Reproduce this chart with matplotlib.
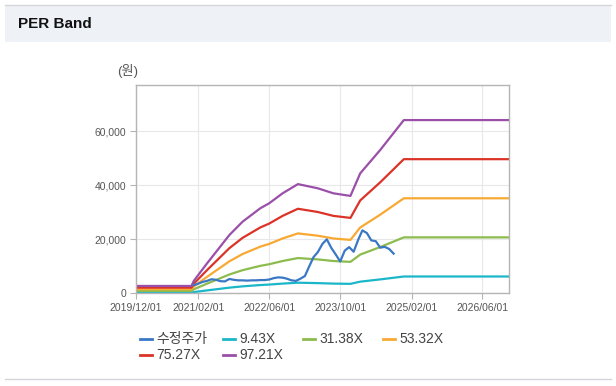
import matplotlib
matplotlib.use('Agg')
import matplotlib.pyplot as plt
import matplotlib.dates as mdates
import matplotlib.ticker as mticker
from matplotlib.lines import Line2D
from matplotlib.patches import Rectangle
import pandas as pd

plt.rcParams['font.family'] = ['Liberation Sans', 'Noto Sans CJK KR']

# EPS path behind the PER bands (band = EPS x multiple)
eps_dates = ['2019-12-01', '2020-12-15', '2021-01-01', '2021-04-01', '2021-09-01',
             '2021-12-01', '2022-04-01', '2022-06-01', '2022-09-01', '2022-12-15',
             '2023-05-01', '2023-08-15', '2023-12-10', '2024-02-15', '2024-07-01',
             '2024-12-10', '2026-12-01']
eps_values = [28, 28, 48, 114, 222, 273, 324, 343, 381, 416,
              400, 381, 371, 457, 546, 660, 660]

multiples = [9.43, 31.38, 53.32, 75.27, 97.21]
band_labels = ['9.43X', '31.38X', '53.32X', '75.27X', '97.21X']
band_colors = ['#1bb7c9', '#8cbb4e', '#f7a933', '#db3328', '#9a4fa8']

# adjusted close (monthly, 2021-01 .. 2024-10)
price_dates = pd.date_range('2021-01-01', '2024-10-01', freq='MS')
price_values = [3000, 3600, 4200, 4600, 5200, 5000, 4500, 4400, 5300, 5000,
                4800, 4800, 4700, 4800, 4800, 4900, 4900, 5100, 5600, 5900,
                5800, 5400, 4800, 4600, 5400, 6400, 9800, 13400, 15300, 18300,
                20000, 16800, 14300, 11800, 15800, 17100, 15400, 19800, 23300, 22300,
                19600, 19300, 16900, 17200, 16400, 14700]
price_label = '수정주가'
price_color = '#3a78c5'

xtick_dates = ['2019/12/01', '2021/02/01', '2022/06/01', '2023/10/01', '2025/02/01', '2026/06/01']
yticks = [0, 20000, 40000, 60000]

W, H = 616, 386


def fx(px):
    return px / W


def fy(py):
    return 1 - py / H


fig = plt.figure(figsize=(W / 100, H / 100), dpi=100, facecolor='white')

# card header
fig.patches.append(Rectangle((fx(5), fy(42)), fx(611) - fx(5), fy(5) - fy(42),
                             transform=fig.transFigure, facecolor='#eef2f7',
                             edgecolor='none', zorder=0))
fig.lines.append(Line2D([fx(5), fx(611)], [fy(5), fy(5)], transform=fig.transFigure,
                        color='#d3d6db', lw=1))
fig.lines.append(Line2D([fx(5), fx(611)], [fy(379), fy(379)], transform=fig.transFigure,
                        color='#d3d6db', lw=1))
fig.text(fx(18), fy(24), 'PER Band', fontsize=11, fontweight='bold',
         color='#111111', va='center', ha='left')

ax = fig.add_axes([fx(136), fy(293.3), fx(509) - fx(136), fy(85) - fy(293.3)])

edates = pd.to_datetime(eps_dates)
for mult, label, color in zip(multiples, band_labels, band_colors):
    ax.plot(edates, [e * mult for e in eps_values], color=color, lw=1.6,
            label=label, solid_joinstyle='round')
ax.plot(price_dates, price_values, color=price_color, lw=1.6, label=price_label,
        zorder=5, solid_joinstyle='round')

ax.set_xlim(pd.Timestamp('2019-12-01'), pd.Timestamp('2026-12-01'))
ax.set_ylim(0, 77150)
ax.set_xticks(pd.to_datetime(xtick_dates, format='%Y/%m/%d'))
ax.xaxis.set_major_formatter(mdates.DateFormatter('%Y/%m/%d'))
ax.set_yticks(yticks)
ax.yaxis.set_major_formatter(mticker.FuncFormatter(lambda v, p: f'{int(v):,}'))
ax.grid(True, color='#e8e8e8', lw=0.8)
ax.set_axisbelow(True)
for s in ax.spines.values():
    s.set_color('#b5b5b5')
    s.set_linewidth(1)
ax.tick_params(colors='#b5b5b5', labelcolor='#555555', labelsize=7.5,
               length=4, width=0.8, pad=3)

fig.text(fx(117), fy(71), '(원)', fontsize=9.5, color='#555555', va='center', ha='left')

# legend, laid out like the source widget
legend_items = [(price_label, price_color, 140, 339), (band_labels[0], band_colors[0], 223, 339),
                (band_labels[1], band_colors[1], 303, 339), (band_labels[2], band_colors[2], 383, 339),
                (band_labels[3], band_colors[3], 140, 355), (band_labels[4], band_colors[4], 223, 355)]
for label, color, x, y in legend_items:
    fig.lines.append(Line2D([fx(x), fx(x + 12)], [fy(y), fy(y)], transform=fig.transFigure,
                            color=color, lw=2))
    fig.text(fx(x + 16), fy(y), label, fontsize=10, color='#444444', va='center', ha='left')

fig.savefig('out.png', dpi=100)
